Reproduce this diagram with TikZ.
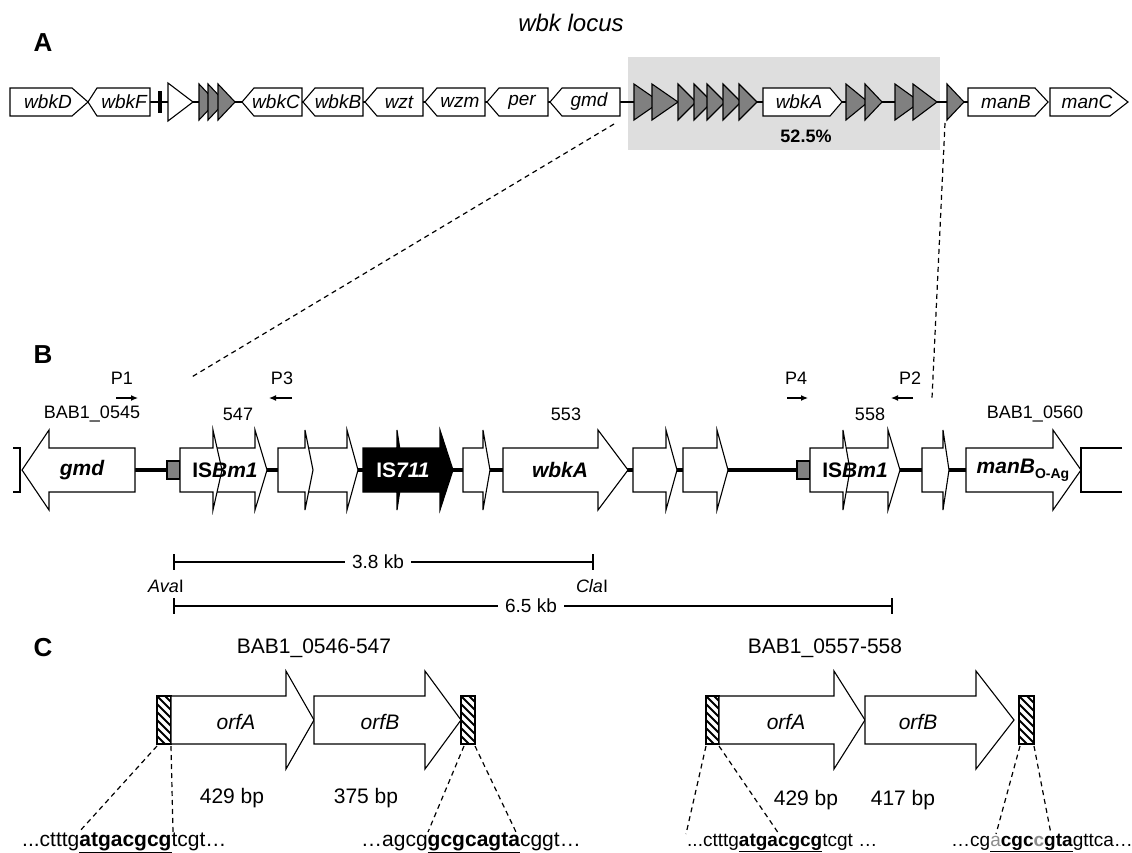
\documentclass[tikz,border=0pt]{standalone}
\usepackage{fontspec}
\setmainfont{Liberation Sans}
\usetikzlibrary{arrows.meta}

\newcommand{\fs}[1]{\fontsize{#1}{#1}\selectfont}
% gene boxes: start, base of point, tip, y, half height
\newcommand{\rgene}[6][]{\draw[gene,#1] (#2,#5-#6) -- (#3,#5-#6) -- (#4,#5) -- (#3,#5+#6) -- (#2,#5+#6) -- cycle;}
\newcommand{\lgene}[6][]{\draw[gene,#1] (#2,#5) -- (#3,#5-#6) -- (#4,#5-#6) -- (#4,#5+#6) -- (#3,#5+#6) -- cycle;}
% block arrows: start, head base, tip, y, body half, head half
\newcommand{\rarrow}[7][]{\draw[gene,#1] (#2,#5-#6) -- (#3,#5-#6) -- (#3,#5-#7) -- (#4,#5) -- (#3,#5+#7) -- (#3,#5+#6) -- (#2,#5+#6) -- cycle;}
\newcommand{\larrow}[7][]{\draw[gene,#1] (#2,#5) -- (#3,#5-#7) -- (#3,#5-#6) -- (#4,#5-#6) -- (#4,#5+#6) -- (#3,#5+#6) -- (#3,#5+#7) -- cycle;}
% small orf triangles: start, tip, y, half height
\newcommand{\tri}[5][]{\draw[orf,#1] (#2,#4-#5) -- (#3,#4) -- (#2,#4+#5) -- cycle;}
% hatched repeat box
\newcommand{\hatchbox}[4]{%
  \begin{scope}
    \clip (#1,#2) rectangle (#3,#4);
    \foreach \k in {-56,-48,...,16} \draw[line width=1.8pt] (#1+\k,#2) -- ++(60,60);
  \end{scope}
  \draw[box] (#1,#2) rectangle (#3,#4);}

\tikzset{
  gene/.style={draw,fill=white,line width=1.1pt},
  orf/.style={draw,fill=black!50,line width=1.1pt},
  box/.style={draw,line width=1.1pt},
  axis/.style={line width=3.2pt},
  cut/.style={line width=1.2pt,dash pattern=on 5pt off 4pt},
  prim/.style={line width=1.2pt,-{Latex[length=7pt,width=6pt]}},
  panel/.style={font=\fs{26}\bfseries,inner sep=0pt},
  lab/.style={font=\fs{18},inner sep=0pt},
  glab/.style={font=\fs{19}\itshape,inner sep=0pt},
  blab/.style={font=\fs{21}\bfseries\itshape,inner sep=0pt},
  clab/.style={font=\fs{21},inner sep=0pt},
  seq/.style={font=\fs{21},inner sep=0pt,anchor=base west}
}

\begin{document}
\begin{tikzpicture}[x=1pt,y=-1pt]
\useasboundingbox (0,0) rectangle (1132,852);

% ---------------- panel A
\node[panel] (pA) at (43,43) {A};
\node[font=\fs{24}\itshape,inner sep=0pt] (locus) at (571,23) {wbk locus};
\fill[black!13] (628,57) rectangle (940,150);
\draw[line width=1.3pt] (150,102) -- (968,102);
\draw[line width=4pt] (160,91) -- (160,113);
\rgene{10}{72}{88}{102}{14}
\lgene{88}{97}{150}{102}{14}
\tri[fill=white]{168}{193}{102}{19}
\tri{199}{216}{102}{18}
\tri{208}{225}{102}{18}
\tri{218}{235}{102}{18}
\lgene{242}{254}{302}{102}{14}
\lgene{303}{315}{363}{102}{14}
\lgene{365}{377}{423}{102}{14}
\lgene{425}{437}{485}{102}{14}
\lgene{487}{499}{548}{102}{14}
\lgene{550}{562}{620}{102}{14}
% shaded cluster
\tri{634}{660}{102}{18}
\tri{652}{678}{102}{18}
\tri{678}{696}{102}{18}
\tri{694}{712}{102}{18}
\tri{707}{725}{102}{18}
\tri{723}{741}{102}{18}
\tri{739}{757}{102}{18}
\rgene{763}{830}{842}{102}{14}
\tri{846}{868}{102}{18}
\tri{865}{882}{102}{18}
\tri{895}{920}{102}{18}
\tri{913}{937}{102}{18}
\tri{947}{964}{102}{18}
\rgene{968}{1035}{1048}{102}{14}
\rgene{1050}{1110}{1128}{102}{14}
\node[glab] (wbkD) at (48,102) {wbkD};
\node[glab] (wbkF) at (124,102) {wbkF};
\node[glab] (wbkC) at (276,102) {wbkC};
\node[glab] (wbkB) at (338,102) {wbkB};
\node[glab] (wzt) at (399,102) {wzt};
\node[glab] (wzm) at (460,102) {wzm};
\node[glab] (per) at (522,102) {per};
\node[glab] (gmdA) at (589,102) {gmd};
\node[glab] (wbkA) at (799,102) {wbkA};
\node[glab] (manB) at (1006,102) {manB};
\node[glab] (manC) at (1087,102) {manC};
\node[font=\fs{18}\bfseries,inner sep=0pt] (pct) at (806,136) {52.5\%};

% zoom lines
\coordinate (zl1) at (614,124);
\coordinate (zl2) at (190,378);
\coordinate (zr1) at (945,123);
\coordinate (zr2) at (932,398);
\draw[cut] (zl1) -- (zl2);
\draw[cut] (zr1) -- (zr2);

% ---------------- panel B
\node[panel] (pB) at (43,355) {B};
\node[lab] (P1) at (122,378) {P1};
\node[lab] (P3) at (282,378) {P3};
\node[lab] (P4) at (796,378) {P4};
\node[lab] (P2) at (910,378) {P2};
\draw[prim] (116,398) -- (138,398);
\draw[prim] (292,398) -- (269,398);
\draw[prim] (787,398) -- (808,398);
\draw[prim] (913,398) -- (891,398);
\node[lab] (b545) at (92,414) {BAB1\_0545};
\node[lab] (b547) at (238,414) {547};
\node[lab] (b553) at (566,414) {553};
\node[lab] (b558) at (870,414) {558};
\node[lab] (b560) at (1035,414) {BAB1\_0560};

\draw[axis] (135,470) -- (966,470);
\draw[box] (13,448) -- (20,448) -- (20,492) -- (13,492);
\larrow{22}{49}{135}{470}{22}{40}
\draw[box,fill=black!50] (167,461) rectangle (180,479);
\rarrow{213}{255}{267}{470}{22}{40}
\rarrow{180}{213}{222}{470}{22}{40}
\rarrow{305}{347}{358}{470}{22}{40}
\rarrow{278}{305}{313}{470}{22}{40}
\rarrow[fill=black]{397}{440}{453}{470}{22}{40}
\rarrow[fill=black]{363}{397}{403}{470}{22}{40}
\rarrow{463}{483}{490}{470}{22}{40}
\rarrow{503}{598}{628}{470}{22}{40}
\rarrow{633}{666}{677}{470}{22}{40}
\rarrow{683}{717}{728}{470}{22}{40}
\draw[box,fill=black!50] (797,461) rectangle (810,479);
\rarrow{843}{888}{900}{470}{22}{40}
\rarrow{810}{843}{850}{470}{22}{40}
\rarrow{922}{943}{949}{470}{22}{40}
\rarrow{966}{1053}{1081}{470}{22}{40}
\draw[box] (1122,448) -- (1081,448) -- (1081,492) -- (1122,492);
\node[blab] (gmdB) at (82,470) {gmd};
\node[font=\fs{21}\bfseries,inner sep=0pt] (isa) at (225,470) {IS\textit{Bm1}};
\node[font=\fs{21}\bfseries,inner sep=0pt,text=white] (is711) at (403,470) {IS\textit{711}};
\node[blab] (wbkAB) at (560,470) {wbkA};
\node[font=\fs{21}\bfseries,inner sep=0pt] (isb) at (855,470) {IS\textit{Bm1}};
\node[font=\fs{21}\bfseries,inner sep=0pt] (manBB) at (1023,470) {\textit{manB}\raisebox{-5pt}{\fs{14}O-Ag}};

% fragments
\node[lab,font=\fs{19},inner xsep=7pt] (kb38) at (378,562) {3.8 kb};
\draw[line width=1.2pt] (174,562) -- (kb38.west);
\draw[line width=1.2pt] (kb38.east) -- (593,562);
\draw[line width=1.2pt] (174,554) -- (174,570);
\draw[line width=1.2pt] (593,554) -- (593,570);
\node[lab] (ava) at (166,586) {\textit{Ava}I};
\node[lab] (cla) at (592,586) {\textit{Cla}I};
\node[lab,font=\fs{19},inner xsep=7pt] (kb65) at (531,606) {6.5 kb};
\draw[line width=1.2pt] (174,606) -- (kb65.west);
\draw[line width=1.2pt] (kb65.east) -- (892,606);
\draw[line width=1.2pt] (174,598) -- (174,614);
\draw[line width=1.2pt] (892,598) -- (892,614);

% ---------------- panel C
\node[panel] (pC) at (43,648) {C};
\node[clab] (c546) at (314,648) {BAB1\_0546-547};
\node[clab] (c557) at (825,648) {BAB1\_0557-558};

\hatchbox{157}{696}{171}{744}
\rarrow{171}{286}{314}{720}{24}{49}
\rarrow{314}{425}{461}{720}{24}{49}
\hatchbox{461}{696}{475}{744}
\node[clab,font=\fs{21}\itshape] (orfA1) at (236,722) {orfA};
\node[clab,font=\fs{21}\itshape] (orfB1) at (380,722) {orfB};
\node[clab] (bp429a) at (232,798) {429 bp};
\node[clab] (bp375) at (366,798) {375 bp};

\hatchbox{706}{696}{719}{744}
\rarrow{719}{834}{865}{720}{24}{49}
\rarrow{865}{976}{1014}{720}{24}{49}
\hatchbox{1019}{696}{1034}{744}
\node[clab,font=\fs{21}\itshape] (orfA2) at (786,722) {orfA};
\node[clab,font=\fs{21}\itshape] (orfB2) at (918,722) {orfB};
\node[clab] (bp429b) at (806,800) {429 bp};
\node[clab] (bp417) at (903,800) {417 bp};

\draw[cut] (157,746) -- (79,832);
\draw[cut] (171,746) -- (173,832);
\draw[cut] (464,746) -- (428,832);
\draw[cut] (475,746) -- (516,832);
\draw[cut] (706,746) -- (686,834);
\draw[cut] (719,746) -- (779,834);
\draw[cut] (1020,746) -- (996,834);
\draw[cut] (1034,746) -- (1051,834);

\node[seq] (s1) at (22,846) {...ctttg\underline{\textbf{atgacgcg}}tcgt…};
\node[seq] (s2) at (361,846) {…agcg\underline{\textbf{gcgcagta}}cggt…};
\node[seq,font=\fs{19}] (s3) at (687,846) {...ctttg\underline{\textbf{atgacgcg}}tcgt …};
\node[seq,font=\fs{19}] (s4) at (951,846) {…cg\underline{\textcolor{black!45}{a}\textbf{cgc\textcolor{black!45}{c}gta}}gttca…};
\end{tikzpicture}
\end{document}
